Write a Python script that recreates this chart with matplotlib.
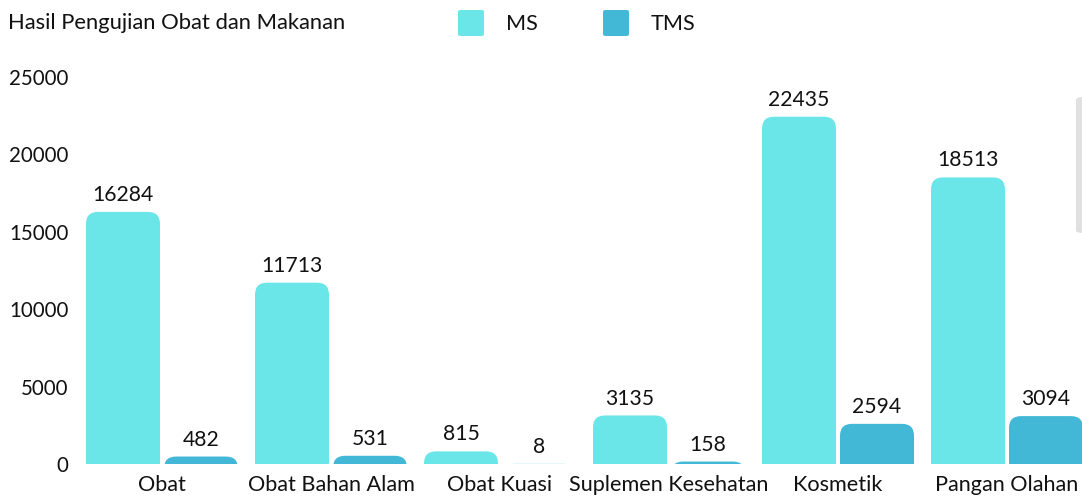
import numpy as np
import matplotlib
matplotlib.use("Agg")
import matplotlib.pyplot as plt
from matplotlib.patches import FancyBboxPatch

plt.rcParams['font.family'] = ['Lato', 'DejaVu Sans']

categories = ['Obat', 'Obat Bahan Alam', 'Obat Kuasi', 'Suplemen Kesehatan', 'Kosmetik', 'Pangan Olahan']
ms = [16284, 11713, 815, 3135, 22435, 18513]
tms = [482, 531, 8, 158, 2594, 3094]
yticks = [0, 5000, 10000, 15000, 20000, 25000]

c_ms = '#6ae6e8'
c_tms = '#42b8d6'

W, H = 1082, 498
fig = plt.figure(figsize=(W / 100, H / 100), dpi=100)
# axes runs past the right edge, like the clipped original
ax = fig.add_axes([77.5 / W, (H - 464) / H, 1014 / W, 387 / H])
ax.set_xlim(-0.5, len(categories) - 0.5)
ax.set_ylim(0, 25000)

bw = 74 / 169
off = 39 / 169
r = 12 / 169                       # corner radius in x units
aspect = (25000 / 387) * 169       # y units per x unit at same pixel size

x = np.arange(len(categories))
for vals, sign, col in [(ms, -1, c_ms), (tms, 1, c_tms)]:
    for xi, v in zip(x, vals):
        x0 = xi + sign * off - bw / 2
        y0 = -2 * r * aspect
        p = FancyBboxPatch((x0, y0), bw, v - y0,
                           boxstyle=f"round,pad=0,rounding_size={r}",
                           mutation_aspect=aspect, fc=col, ec='none')
        ax.add_patch(p)
        ax.annotate(str(v), (xi + sign * off, v), xytext=(0, 5),
                    textcoords='offset points', ha='center', va='bottom',
                    fontsize=15.2, color='#111111')

ax.set_xticks(x)
ax.set_xticklabels(categories, fontsize=15.6)
ax.set_yticks(yticks)
ax.set_yticklabels([str(t) for t in yticks], fontsize=14.8)
ax.tick_params(axis='both', length=0, colors='#111111')
ax.tick_params(axis='x', pad=8)
ax.tick_params(axis='y', pad=6.5)
for s in ax.spines.values():
    s.set_visible(False)

# title and legend
fig.text(8 / W, 1 - 23 / H, 'Hasil Pengujian Obat dan Makanan', fontsize=15.8,
         va='center', ha='left', color='#111111')
for px, lab, col in [(458, 'MS', c_ms), (603, 'TMS', c_tms)]:
    fig.patches.append(FancyBboxPatch((px / W, 1 - 36 / H), 26 / W, 26 / H,
                                      boxstyle="round,pad=0,rounding_size=0.003",
                                      transform=fig.transFigure, fc=col, ec='none'))
    fig.text((px + 48) / W, 1 - 24 / H, lab, fontsize=15.6, va='center',
             ha='left', color='#111111')

# grey scroll handle on the right edge
fig.patches.append(FancyBboxPatch((1076 / W, 1 - 233 / H), 20 / W, 136 / H,
                                  boxstyle="round,pad=0,rounding_size=0.006",
                                  transform=fig.transFigure, fc='#e0e0e0', ec='none'))

fig.savefig('out.png', dpi=100)
